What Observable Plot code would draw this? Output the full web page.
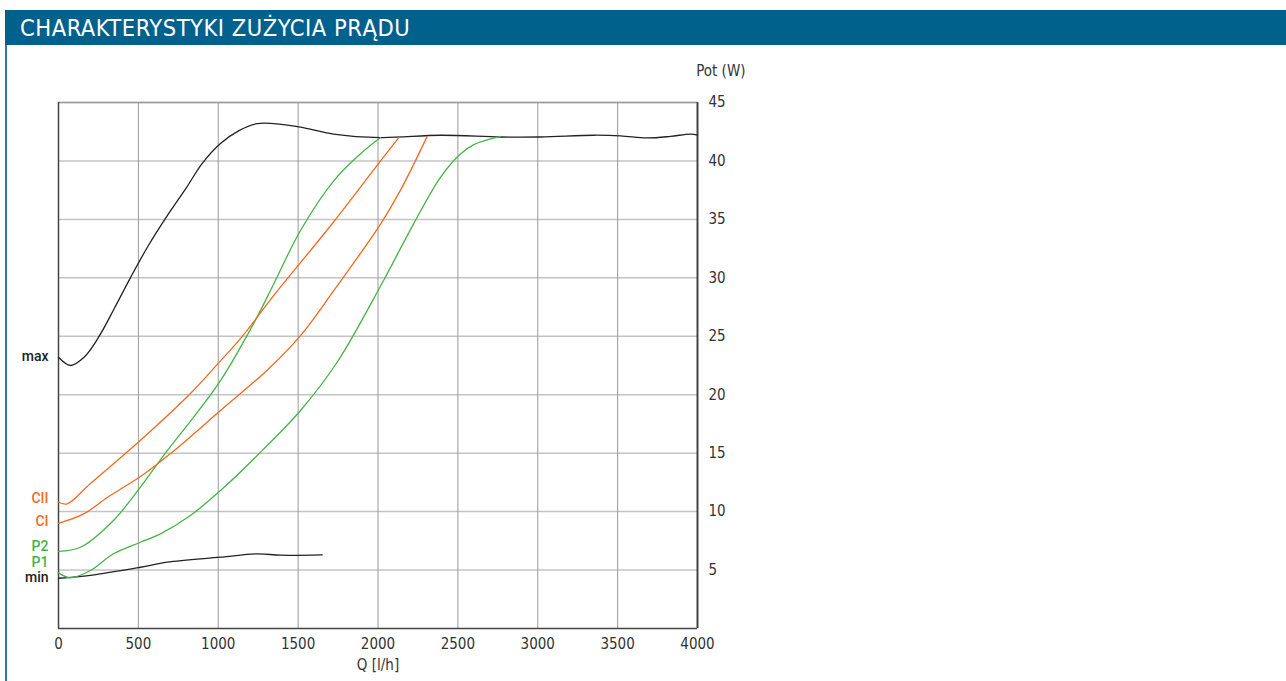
<!DOCTYPE html>
<html><head><meta charset="utf-8">
<script src="https://cdn.jsdelivr.net/npm/d3@7"></script>
<script src="https://cdn.jsdelivr.net/npm/@observablehq/plot@0.6"></script>
<style>
html,body{margin:0;padding:0;background:#fff;width:1286px;height:681px;overflow:hidden;font-family:"DejaVu Sans Condensed","Roboto",sans-serif;}
#hdr{position:absolute;left:5px;top:10px;width:1281px;height:35px;background:#00618C;color:#fff;font-family:"DejaVu Sans Condensed","Roboto",sans-serif;font-stretch:condensed;font-size:23.5px;line-height:37px;padding-left:15px;box-sizing:border-box;letter-spacing:0.5px;}
#lb{position:absolute;left:5px;top:45px;width:1.5px;height:636px;background:#2a7aa8;z-index:5;}
#chart{position:absolute;left:0;top:50px;}
</style></head>
<body>
<div id="hdr">CHARAKTERYSTYKI ZUŻYCIA PRĄDU</div>
<div id="lb"></div>
<div id="chart"></div>
<script>
const xTicks = [0,500,1000,1500,2000,2500,3000,3500,4000];
const yTicks = [5,10,15,20,25,30,35,40,45];

const maxQ = [0,75,160,250,350,450,560,680,800,900,1014,1130,1244,1346,1515,1721,2016,2391,2767,3017,3349,3518,3685,3831,3956,4000];
const maxP = [23.2,22.5,23.2,24.9,27.4,30.0,32.7,35.3,37.7,39.8,41.5,42.6,43.2,43.2,42.9,42.3,42.0,42.2,42.05,42.05,42.2,42.15,41.97,42.1,42.3,42.2];

const minQ = [0,200,513,680,1014,1244,1390,1651];
const minP = [4.3,4.55,5.24,5.67,6.1,6.39,6.27,6.3];

const p1Q = [0,75,200,344,513,638,826,1014,1244,1515,1745,2016,2222,2391,2516,2600,2767];
const p1P = [4.76,4.34,4.96,6.39,7.38,8.1,9.67,11.8,14.8,18.65,22.8,29.3,34.6,38.6,40.6,41.4,42.1];

const p2Q = [0,138,344,513,680,847,1014,1222,1348,1515,1723,1890,2016];
const p2P = [6.6,6.95,9.24,12.1,15.2,18.1,21.2,26.1,29.5,34.05,38.3,40.6,42.0];

const c2Q = [0,54,200,513,826,1014,1139,1348,1515,1723,2016,2130];
const c2P = [10.8,10.67,12.4,16.1,20.1,22.9,24.8,28.5,31.3,34.8,40.0,42.0];

const c1Q = [0,158,305,534,722,1014,1306,1515,1723,2016,2141,2308];
const c1P = [9.0,9.8,11.2,13.2,15.2,18.65,22.1,25.06,28.9,34.6,37.5,42.1];

const seriesNames = ["max","min","P1","P2","CII","CI"];
const seriesColors = ["#222222","#222222","#46b347","#46b347","#f26a1e","#f26a1e"];
const labelY = [23.2,4.35,5.65,6.95,11.1,9.15];

const sets = [[maxQ,maxP],[minQ,minP],[p1Q,p1P],[p2Q,p2P],[c2Q,c2P],[c1Q,c1P]];
const rows = [];
sets.forEach(([q,p],i)=>q.forEach((v,j)=>rows.push({name:seriesNames[i],q:v,p:p[j]})));
const labels = seriesNames.map((n,i)=>({name:n,y:labelY[i],c:seriesColors[i]}));
const colorOf = Object.fromEntries(seriesNames.map((n,i)=>[n,seriesColors[i]]));

const W = 790, H = 631;
const chart = Plot.plot({
  width: W, height: H,
  marginLeft: 58, marginRight: W-697, marginTop: 52, marginBottom: 53,
  style:{fontFamily:'"DejaVu Sans Condensed","Roboto",sans-serif', fontSize:"15px", color:"#333", background:"transparent"},
  x:{domain:[0,4000]},
  y:{domain:[0,45]},
  marks:[
    Plot.gridY(yTicks,{stroke:"#c4c4c4",strokeOpacity:1,strokeWidth:1.5}),
    Plot.gridX(xTicks,{stroke:"#9a9a9a",strokeOpacity:1,strokeWidth:1}),
    Plot.ruleY([45],{stroke:"#9a9a9a",strokeWidth:1.5}),
    Plot.ruleY([0],{stroke:"#444",strokeWidth:1.5}),
    Plot.ruleX([0],{stroke:"#444",strokeWidth:1.5}),
    Plot.ruleX([4000],{stroke:"#444",strokeWidth:2}),
    Plot.axisX(xTicks,{tickSize:0,tickPadding:10,fontSize:15,fill:"#333",tickFormat:"d",label:"Q [l/h]",labelAnchor:"center",labelArrow:"none",labelOffset:41}),
    Plot.axisY(yTicks,{anchor:"right",tickSize:0,tickPadding:11,fontSize:15,fill:"#333",tickFormat:"d",label:null}),
    Plot.text(["Pot (W)"],{frameAnchor:"top-right",dx:48,dy:-37,textAnchor:"end",fontSize:15,fill:"#333"}),
    Plot.line(rows,{x:"q",y:"p",z:"name",stroke:d=>colorOf[d.name],strokeWidth:1.3,curve:"catmull-rom"}),
    Plot.text(labels,{x:0,y:"y",text:"name",fill:"c",dx:-10,textAnchor:"end",fontSize:14,fontWeight:500,fontFamily:"Roboto",lineHeight:0.9})
  ]
});
document.getElementById("chart").append(chart);
</script>
</body></html>
